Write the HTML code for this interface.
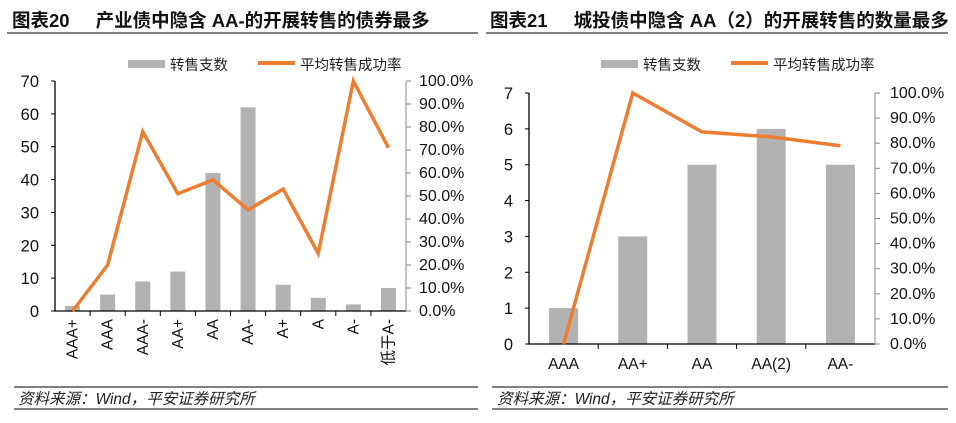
<!DOCTYPE html>
<html><head><meta charset="utf-8">
<style>
body{margin:0;background:#fff;width:956px;height:423px;overflow:hidden;font-family:"Liberation Sans","Noto Sans CJK SC",sans-serif;}
svg{display:block}
</style></head>
<body>
<svg id="s" width="956" height="423" xmlns="http://www.w3.org/2000/svg" font-family="Liberation Sans, Noto Sans CJK SC, sans-serif">
<g>
<text x="12" y="27" font-size="18.5" font-weight="bold" fill="#111">图表20<tspan dx="26">产业债中隐含 AA-的开展转售的债券最多</tspan></text>
<line x1="7" y1="33" x2="478" y2="33" stroke="#000" stroke-width="1"/>
<line x1="14" y1="387" x2="478" y2="387" stroke="#000"/>
<line x1="14" y1="409" x2="478" y2="409" stroke="#000"/>
<text x="18" y="404" font-size="15.5" font-style="italic" fill="#222">资料来源：Wind，平安证券研究所</text>
</g>
<g>
<text x="490" y="27" font-size="18.5" font-weight="bold" fill="#111">图表21<tspan dx="26">城投债中隐含 AA（2）的开展转售的数量最多</tspan></text>
<line x1="486" y1="33" x2="948" y2="33" stroke="#000"/>
<line x1="492" y1="387" x2="948" y2="387" stroke="#000"/>
<line x1="492" y1="409" x2="948" y2="409" stroke="#000"/>
<text x="497" y="404" font-size="15.5" font-style="italic" fill="#222">资料来源：Wind，平安证券研究所</text>
</g>
<g id="c1"></g><g id="c2"></g>
</svg>
<script>
const cats1=["AAA+","AAA","AAA-","AA+","AA","AA-","A+","A","A-","低于A-"];
const bars1=[1.5,5,9,12,42,62,8,4,2,7];
const rate1=[0,20,78,51,57,44,53,25,100,71];
const leftTicks1=[0,10,20,30,40,50,60,70];
const cats2=["AAA","AA+","AA","AA(2)","AA-"];
const bars2=[1,3,5,6,5];
const rate2=[0,100,84.5,82.5,79];
const leftTicks2=[0,1,2,3,4,5,6,7];
const pctTicks=[0,10,20,30,40,50,60,70,80,90,100];
const NS="http://www.w3.org/2000/svg";
function mk(p,tag,a,txt){const e=document.createElementNS(NS,tag);for(const k in a)e.setAttribute(k,a[k]);if(txt!=null)e.textContent=txt;p.appendChild(e);return e;}
function draw(g,o){
  const {x0,x1,y0,y1,cats,bars,rate,lt,lmax,bw,rot,lx,rx}=o;
  const n=cats.length,cw=(x1-x0)/n;
  const ys=v=>y0-(v/lmax)*(y0-y1), yr=v=>y0-(v/100)*(y0-y1), xc=i=>x0+cw*(i+0.5);
  const L=mk(g,"g",{});
  const r=mk(L,"rect",{x:o.lgx,y:o.lgy-4,width:37,height:8,fill:"#b2b2b2"});
  const t1=mk(L,"text",{x:o.lgx+42,y:o.lgy+6,"font-size":14.5,fill:"#222"},"转售支数");
  const l=mk(L,"line",{x1:o.lgx+130,x2:o.lgx+167,y1:o.lgy-1,y2:o.lgy-1,stroke:"#ed7d31","stroke-width":4});
  const t2=mk(L,"text",{x:o.lgx+172,y:o.lgy+6,"font-size":14.5,fill:"#222"},"平均转售成功率");
  bars.forEach((v,i)=>{const b=mk(g,"rect",{x:xc(i)-bw/2,y:ys(v),width:bw,height:y0-ys(v),fill:"#b2b2b2"});
    });
  const ax=mk(g,"path",{d:`M${x0},${y1}V${y0}H${x1}`,fill:"none",stroke:"#000","stroke-width":1.3});
  
  const ra=mk(g,"line",{x1:x1,x2:x1,y1:y1,y2:y0,stroke:"#888"});
  lt.forEach(v=>{mk(g,"line",{x1:x0-4,x2:x0,y1:ys(v),y2:ys(v),stroke:"#000"});
    const t=mk(g,"text",{x:lx,y:ys(v)+6,"font-size":16.5,"text-anchor":"end",fill:"#111"},v);});
  pctTicks.forEach(v=>{mk(g,"line",{x1:x1,x2:x1+5,y1:yr(v),y2:yr(v),stroke:"#888"});
    const t=mk(g,"text",{x:rx,y:yr(v)+5,"font-size":16,fill:"#111"},v.toFixed(1)+"%");});
  for(let i=1;i<n;i++)mk(g,"line",{x1:x0+cw*i,x2:x0+cw*i,y1:y0,y2:y0+5,stroke:"#000"});
  cats.forEach((c,i)=>{let t;
    if(rot){t=mk(g,"text",{x:0,y:0,"font-size":15.5,"text-anchor":"end",fill:"#111",transform:`translate(${xc(i)+5},${y0+8}) rotate(-90)`},c);}
    else t=mk(g,"text",{x:xc(i),y:y0+25,"font-size":15.5,"text-anchor":"middle",fill:"#111"},c);
    });
  const ln=mk(g,"polyline",{points:rate.map((v,i)=>xc(i)+","+yr(v)).join(" "),fill:"none",stroke:"#ed7d31","stroke-width":3.5,"stroke-linejoin":"miter"});
  
}
draw(document.getElementById('c1'),{x0:55,x1:406,y0:311,y1:81,cats:cats1,bars:bars1,rate:rate1,lt:leftTicks1,lmax:70,bw:15,rot:true,lx:39,rx:419,lgx:128,lgy:64});
draw(document.getElementById('c2'),{x0:529,x1:875,y0:344,y1:93,cats:cats2,bars:bars2,rate:rate2,lt:leftTicks2,lmax:7,bw:29,rot:false,lx:513,rx:890,lgx:601,lgy:64});
</script>
</body></html>
